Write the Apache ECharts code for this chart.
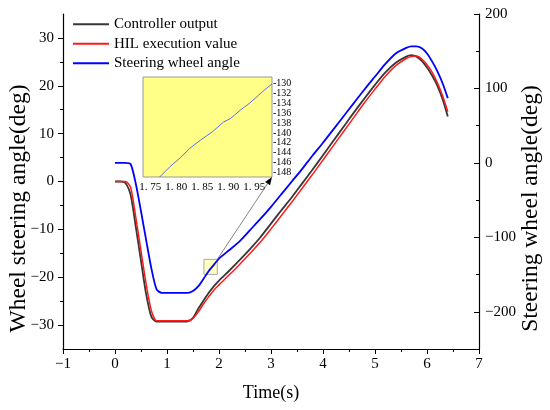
<!DOCTYPE html>
<html>
<head>
<meta charset="utf-8">
<script src="https://cdn.jsdelivr.net/npm/echarts@6/dist/echarts.min.js"></script>
<style>
html,body{margin:0;padding:0;background:#fff;}
#main{width:550px;height:410px;}
</style>
</head>
<body>
<div id="main"></div>
<script>
// ---- data ----
const time = [0,0.1,0.2,0.3,0.4,0.5,0.6,0.7,0.8,0.9,1.0,1.2,1.4,1.5,1.6,1.7,1.8,1.9,2.0,2.2,2.4,2.6,2.8,3.0,3.2,3.4,3.6,3.8,4.0,4.2,4.4,4.6,4.8,5.0,5.2,5.4,5.6,5.7,5.8,5.9,6.0,6.1,6.2,6.3,6.4];
const controllerOutput = [0,0,-0.3,-2.8,-9.5,-16.6,-23.6,-28.3,-29.3,-29.3,-29.3,-29.3,-29.2,-28.5,-26.6,-24.9,-23.3,-21.9,-20.7,-18.6,-16.4,-14.1,-11.6,-8.8,-6.0,-3.3,-0.4,2.5,5.5,8.5,11.5,14.5,17.4,20.2,22.8,24.8,26.1,26.4,26.1,25.2,23.8,22.1,20.0,17.2,13.6];
const hilValue = [0,0,0,-1.2,-7.5,-14.5,-21.5,-27.0,-29.1,-29.1,-29.1,-29.1,-29.1,-28.6,-27.3,-25.6,-24.1,-22.7,-21.6,-19.5,-17.3,-15.0,-12.6,-9.9,-7.1,-4.3,-1.4,1.5,4.5,7.5,10.5,13.5,16.5,19.3,22.0,24.2,25.7,26.1,26.2,25.6,24.4,22.8,20.6,17.9,14.6];
const wheelAngle = [0,0,0,-1.5,-28,-65,-104,-142,-170,-174.5,-174.5,-174.5,-174.5,-172,-166,-156,-145.5,-137,-128.5,-117,-105,-90,-75,-59,-42,-25,-8,10,27,45,63,81,99,116,133,147,154.5,156.5,156.5,154,147,136,123,107,87];

const insetTime  = [1.768,1.788,1.808,1.826,1.846,1.869,1.891,1.904,1.923,1.942,1.958,1.971,1.984];
const insetAngle = [-148.9,-146.8,-145.0,-143.1,-141.5,-139.8,-137.8,-137.1,-135.4,-133.9,-132.4,-131.2,-130.1];

const leftTicks = [-30,-20,-10,0,10,20,30];
const leftMinor = [-25,-15,-5,5,15,25];
const rightTicks = [-200,-100,0,100,200];
const rightMinor = [-250,-150,-50,50,150];
const insetXTicks = [1.75,1.80,1.85,1.90,1.95];
const insetYTicks = [-148,-146,-144,-142,-140,-138,-136,-134,-132,-130];
const zoomBox = [[1.71,-149.8],[1.967,-129.6]];

const seriesNames = ['Controller output','HIL execution value','Steering wheel angle'];
const colors = ['#363636','#ff1a1a','#0000ff'];

function pairs(xs, ys){ return xs.map((x,i)=>[x, ys[i]]); }
function minus(v){ v = Number(v); return v < 0 ? '\u2212' + Math.abs(v) : String(v); }

const serif = 'Liberation Serif';
const chart = echarts.init(document.getElementById('main'));

const option = {
  animation: false,
  backgroundColor: '#fff',
  textStyle: { fontFamily: serif },
  legend: {
    orient: 'vertical',
    left: 73, top: 14.5, padding: 0,
    itemWidth: 36, itemHeight: 2,
    itemGap: 0,
    textStyle: { fontFamily: serif, fontSize: 15, color: '#000', lineHeight: 19.5 },
    data: seriesNames.map(n => ({ name: n, icon: 'rect' }))
  },
  grid: [
    { left: 63, right: 71, top: 14, bottom: 61, containLabel: false, outerBoundsMode: 'none' },
    { left: 143, top: 77, width: 129, height: 100, show: true, outerBoundsMode: 'none',
      backgroundColor: '#ffff88', borderColor: '#999', borderWidth: 1, z: 10 }
  ],
  xAxis: [
    { type: 'value', gridIndex: 0, min: -1, max: 7, interval: 1,
      name: 'Time(s)', nameLocation: 'middle', nameGap: 35, nameMoveOverlap: false,
      nameTextStyle: { fontFamily: serif, fontSize: 18, color: '#000' },
      axisLine: { show: true, onZero: false, lineStyle: { color: '#000', width: 1.2 } },
      axisTick: { show: true, length: 5, lineStyle: { color: '#000' } },
      minorTick: { show: true, splitNumber: 2, length: 3, lineStyle: { color: '#000' } },
      splitLine: { show: false },
      axisLabel: { fontFamily: serif, fontSize: 15, color: '#000', margin: 8, formatter: minus }
    },
    { type: 'value', gridIndex: 1, min: 1.736, max: 1.984, z: 11,
      axisLine: { show: false, onZero: false }, axisTick: { show: false }, splitLine: { show: false },
      axisLabel: { customValues: insetXTicks, fontFamily: serif, fontSize: 11, color: '#000', margin: 5,
        showMinLabel: true, showMaxLabel: true,
        formatter: v => Number(v).toFixed(2).replace('.', '. ') }
    }
  ],
  yAxis: [
    { type: 'value', gridIndex: 0, position: 'left', min: -35, max: 35,
      name: 'Wheel steering angle(deg)', nameLocation: 'middle', nameGap: 32, nameRotate: 90, nameMoveOverlap: false,
      nameTextStyle: { fontFamily: serif, fontSize: 23.5, color: '#000', padding: [0, 54, 0, 0] },
      axisLine: { show: true, onZero: false, lineStyle: { color: '#000', width: 1.2 } },
      axisTick: { show: true, length: 5, customValues: leftTicks, lineStyle: { color: '#000' } },
      splitLine: { show: false },
      axisLabel: { customValues: leftTicks, fontFamily: serif, fontSize: 15, color: '#000', margin: 9, formatter: minus }
    },
    { type: 'value', gridIndex: 0, position: 'right', min: -250, max: 200,
      name: 'Steering wheel angle(deg)', nameLocation: 'middle', nameGap: 40, nameRotate: 90, nameMoveOverlap: false,
      nameTextStyle: { fontFamily: serif, fontSize: 23.5, color: '#000', padding: [0, 54, 0, 0] },
      axisLine: { show: true, onZero: false, lineStyle: { color: '#000', width: 1.2 } },
      axisTick: { show: true, inside: true, length: 5, customValues: rightTicks, lineStyle: { color: '#000' } },
      splitLine: { show: false },
      axisLabel: { customValues: rightTicks, fontFamily: serif, fontSize: 15, color: '#000', margin: 6, formatter: minus }
    },
    { type: 'value', gridIndex: 0, position: 'left', min: -35, max: 35,
      axisLine: { show: false, onZero: false }, splitLine: { show: false }, axisLabel: { show: false },
      axisTick: { show: true, length: 3, customValues: leftMinor, lineStyle: { color: '#000' } }
    },
    { type: 'value', gridIndex: 0, position: 'right', min: -250, max: 200,
      axisLine: { show: false, onZero: false }, splitLine: { show: false }, axisLabel: { show: false },
      axisTick: { show: true, inside: true, length: 3, customValues: rightMinor, lineStyle: { color: '#000' } }
    },
    { type: 'value', gridIndex: 1, position: 'right', min: -148.9, max: -128.7, z: 11,
      axisLine: { show: false, onZero: false }, splitLine: { show: false },
      axisTick: { show: false },
      axisLabel: { customValues: insetYTicks, fontFamily: serif, fontSize: 10, lineHeight: 8, color: '#000', margin: 1,
        showMinLabel: true, showMaxLabel: true, hideOverlap: false, formatter: v => '-' + Math.abs(Number(v)) }
    }
  ],
  series: [
    { name: seriesNames[0], type: 'line', xAxisIndex: 0, yAxisIndex: 0, data: pairs(time, controllerOutput),
      showSymbol: false, smooth: 0.25, color: colors[0], lineStyle: { width: 1.8, color: colors[0] } },
    { name: seriesNames[1], type: 'line', xAxisIndex: 0, yAxisIndex: 0, data: pairs(time, hilValue),
      showSymbol: false, smooth: 0.25, color: colors[1], lineStyle: { width: 1.5, color: colors[1] } },
    { name: seriesNames[2], type: 'line', xAxisIndex: 0, yAxisIndex: 1, data: pairs(time, wheelAngle),
      showSymbol: false, smooth: 0.25, color: colors[2], lineStyle: { width: 1.8, color: colors[2] },
      markArea: { silent: true,
        itemStyle: { color: 'rgba(255,255,140,0.55)', borderColor: '#aaa', borderWidth: 1 },
        data: [[{ coord: zoomBox[0] }, { coord: zoomBox[1] }]] } },
    { name: 'inset', type: 'line', xAxisIndex: 1, yAxisIndex: 4, data: pairs(insetTime, insetAngle),
      showSymbol: false, z: 12, color: '#4a5cff', lineStyle: { width: 0.9, color: '#4a5cff' } }
  ]
};
chart.setOption(option);

// arrow from the zoom box to the inset
const p1 = chart.convertToPixel({ seriesIndex: 2 }, [zoomBox[1][0], zoomBox[1][1]]);
const p2 = chart.convertToPixel({ seriesIndex: 3 }, [1.984, -148.9]);
const dx = p2[0] - p1[0], dy = p2[1] - p1[1];
const len = Math.sqrt(dx*dx + dy*dy);
const ux = dx/len, uy = dy/len;
const ah = 8, aw = 3;
const base = [p2[0] - ux*ah, p2[1] - uy*ah];
chart.setOption({
  graphic: [
    { type: 'line', z: 20, shape: { x1: p1[0], y1: p1[1], x2: base[0], y2: base[1] },
      style: { stroke: '#666', lineWidth: 0.8 } },
    { type: 'polygon', z: 20, shape: { points: [
        [p2[0], p2[1]],
        [base[0] - uy*aw, base[1] + ux*aw],
        [base[0] + uy*aw, base[1] - ux*aw]] },
      style: { fill: '#000' } }
  ]
});
</script>
</body>
</html>
